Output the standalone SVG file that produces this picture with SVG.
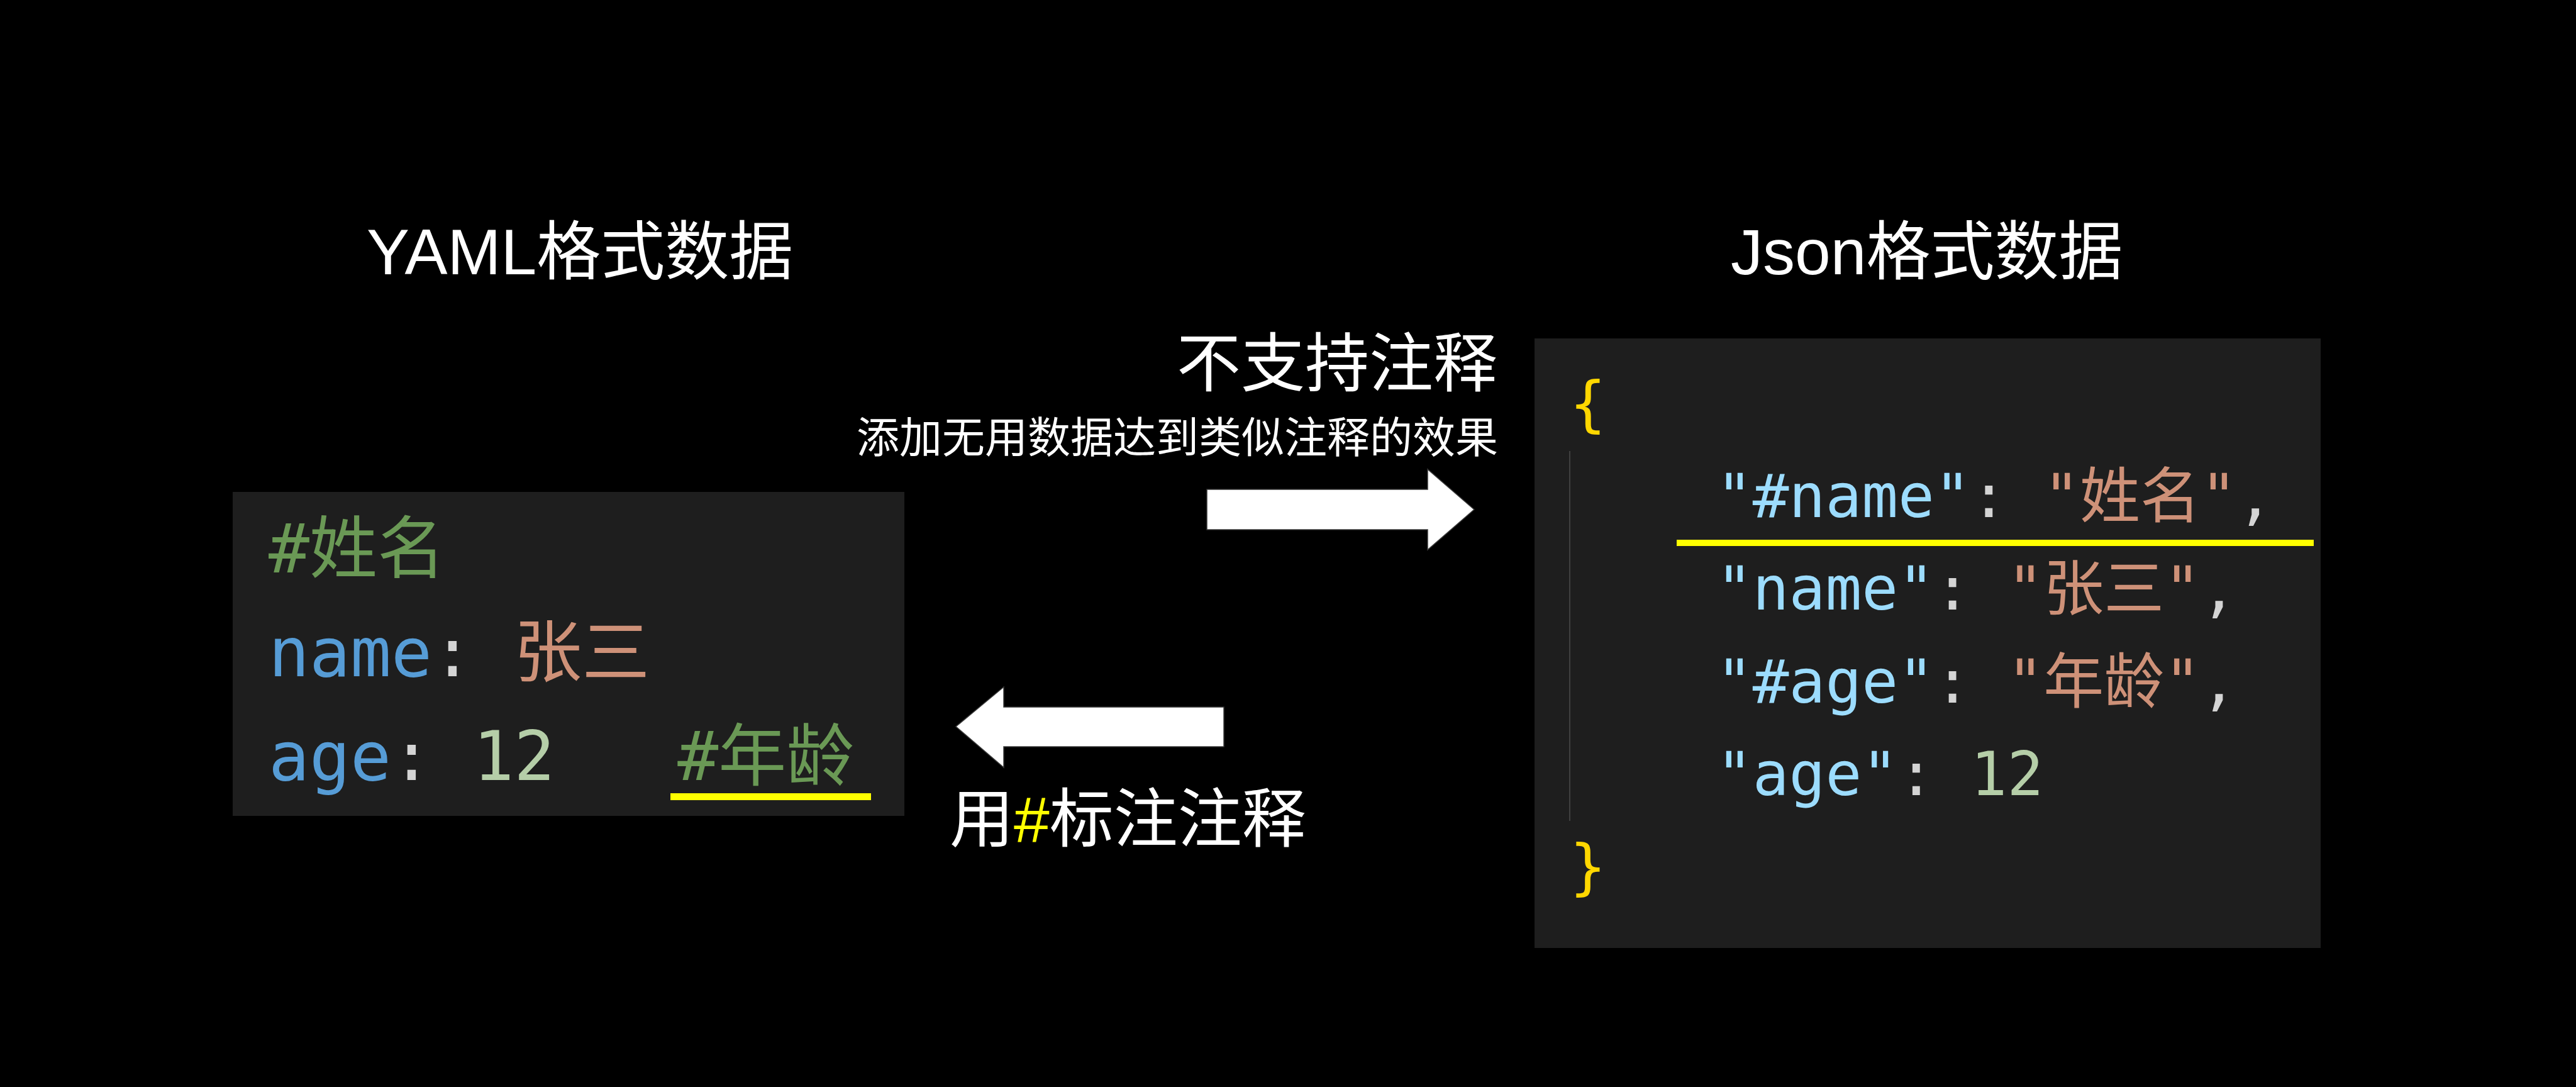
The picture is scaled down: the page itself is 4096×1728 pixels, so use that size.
<svg xmlns="http://www.w3.org/2000/svg" width="4096" height="1728" viewBox="0 0 4096 1728">
<style>
.title{font-family:"Liberation Sans","Noto Sans CJK SC",sans-serif;fill:#fff;}
.code{font-family:"DejaVu Sans Mono","Noto Sans CJK SC",monospace;white-space:pre;}
.box{fill:#1e1e1e;}
.cm{fill:#6a9955;}
.yk{fill:#569cd6;}
.jk{fill:#9cdcfe;}
.pu{fill:#d4d4d4;}
.st{fill:#ce9178;}
.nu{fill:#b5cea8;}
.br{fill:#ffd700;}
.hl{fill:#ffff00;}
.arrow{fill:#fff;stroke:#3a3a3a;stroke-width:1.5;}
</style>
<rect x="0" y="0" width="4096" height="1728" fill="#000"/>

<g id="yaml-title">
<text class="title" x="583" y="436" font-size="102">YAML格式数据</text>
</g>

<g id="yaml-box">
<rect class="box" x="370" y="782" width="1068" height="515"/>
<text class="code" x="427" y="910" font-size="108" xml:space="preserve"><tspan class="cm">#姓名</tspan></text>
<text class="code" x="427" y="1075" font-size="108" xml:space="preserve"><tspan class="yk">name</tspan><tspan class="pu">: </tspan><tspan class="st">张三</tspan></text>
<text class="code" x="427" y="1240" font-size="108" xml:space="preserve"><tspan class="yk">age</tspan><tspan class="pu">: </tspan><tspan class="nu">12</tspan><tspan class="pu">   </tspan><tspan class="cm">#年龄</tspan></text>
<rect class="hl" x="1066" y="1261" width="319" height="11"/>
</g>

<g id="json-title">
<text class="title" x="2752" y="436" font-size="102">Json格式数据</text>
</g>

<g id="json-box">
<rect class="box" x="2440" y="538" width="1250" height="969"/>
<rect x="2495" y="717" width="2" height="588" fill="#404040"/>
<text class="code br" x="2496" y="675" font-size="96">{</text>
<text class="code" x="2729" y="822" font-size="96" xml:space="preserve"><tspan class="jk">"#name"</tspan><tspan class="pu">: </tspan><tspan class="st">"姓名"</tspan><tspan class="pu">,</tspan></text>
<text class="code" x="2729" y="969" font-size="96" xml:space="preserve"><tspan class="jk">"name"</tspan><tspan class="pu">: </tspan><tspan class="st">"张三"</tspan><tspan class="pu">,</tspan></text>
<text class="code" x="2729" y="1117" font-size="96" xml:space="preserve"><tspan class="jk">"#age"</tspan><tspan class="pu">: </tspan><tspan class="st">"年龄"</tspan><tspan class="pu">,</tspan></text>
<text class="code" x="2729" y="1264" font-size="96" xml:space="preserve"><tspan class="jk">"age"</tspan><tspan class="pu">: </tspan><tspan class="nu">12</tspan></text>
<text class="code br" x="2496" y="1411" font-size="96">}</text>
<rect class="hl" x="2666" y="858" width="1013" height="10"/>
</g>

<g id="connectors">
<g id="arrow-to-json">
<polygon class="arrow" points="1919,778 2270,778 2270,746 2344,810 2270,874 2270,842 1919,842"/>
<text class="title" x="2381" y="614" font-size="102" text-anchor="end">不支持注释</text>
<text class="title" x="2382" y="720" font-size="68" text-anchor="end">添加无用数据达到类似注释的效果</text>
</g>
<g id="arrow-to-yaml">
<polygon class="arrow" points="1946,1124 1596,1124 1596,1092 1520,1155 1596,1220 1596,1187 1946,1187"/>
<text class="title" x="1510" y="1338" font-size="102">用<tspan class="hl">#</tspan>标注注释</text>
</g>
</g>
</svg>
